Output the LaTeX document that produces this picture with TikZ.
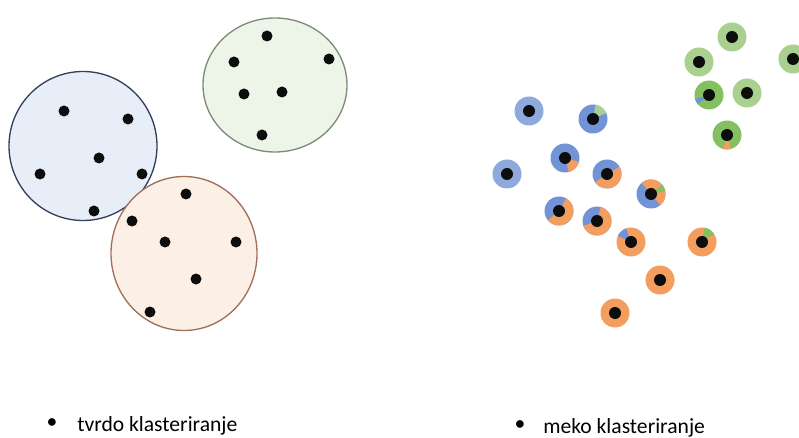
\documentclass[tikz,border=0pt]{standalone}
\usepackage{fontspec}
\setmainfont{Carlito}

\definecolor{bluefill}{RGB}{232,238,248}
\definecolor{blueline}{RGB}{52,64,92}
\definecolor{greenfill}{RGB}{237,245,232}
\definecolor{greenline}{RGB}{125,140,120}
\definecolor{orangefill}{RGB}{252,239,230}
\definecolor{orangeline}{RGB}{160,112,90}
\definecolor{lblue}{RGB}{142,169,219}
\definecolor{mblue}{RGB}{114,148,215}
\definecolor{lgreen}{RGB}{169,208,142}
\definecolor{mgreen}{RGB}{132,192,96}
\definecolor{morange}{RGB}{243,158,94}

\tikzset{
  cluster/.style={line width=1pt},
  pt/.style={fill=black!95},
  lbl/.style={anchor=base west,inner sep=0pt,font=\fontsize{16.2}{19}\selectfont},
  bul/.style={inner sep=0pt,font=\fontsize{16.2}{19}\selectfont}
}

\begin{document}
\begin{tikzpicture}[x=0.75pt,y=0.75pt,yscale=-1,xscale=1]
\useasboundingbox (0,0) rectangle (799,438);

%Shape: Ellipse [blue cluster]
\draw [cluster,draw=blueline,fill=bluefill] (83,146) ellipse (74 and 74.5);
%Shape: Ellipse [green cluster]
\draw [cluster,draw=greenline,fill=greenfill] (275,85) ellipse (72 and 67);
%Shape: Ellipse [orange cluster]
\draw [cluster,draw=orangeline,fill=orangefill] (184,253.5) ellipse (73 and 77);

%Points, blue cluster
\fill [pt] (64,111) circle (5.5);
\fill [pt] (128,119) circle (5.5);
\fill [pt] (99,158) circle (5.5);
\fill [pt] (40,174) circle (5.5);
\fill [pt] (142,174) circle (5.5);
\fill [pt] (94,211) circle (5.5);
%Points, green cluster
\fill [pt] (267,36) circle (5.5);
\fill [pt] (234,62) circle (5.5);
\fill [pt] (329,59) circle (5.5);
\fill [pt] (244,94) circle (5.5);
\fill [pt] (282,92) circle (5.5);
\fill [pt] (262,135) circle (5.5);
%Points, orange cluster
\fill [pt] (186,194) circle (5.5);
\fill [pt] (132,221) circle (5.5);
\fill [pt] (165,242) circle (5.5);
\fill [pt] (236,242) circle (5.5);
\fill [pt] (196,279) circle (5.5);
\fill [pt] (150,312) circle (5.5);

%Soft points: centres
\coordinate (s1) at (529,111);
\coordinate (s2) at (593,119);
\coordinate (s3) at (565,158);
\coordinate (s4) at (507,174);
\coordinate (s5) at (607,174);
\coordinate (s6) at (651,194);
\coordinate (s7) at (559,211);
\coordinate (s8) at (597,221);
\coordinate (s9) at (631,242);
\coordinate (s10) at (702,242);
\coordinate (s11) at (660,280);
\coordinate (s12) at (615,313);
\coordinate (g1) at (732,37);
\coordinate (g2) at (699,62);
\coordinate (g3) at (793,59);
\coordinate (g4) at (709,95);
\coordinate (g5) at (747,93);
\coordinate (g6) at (727,135);

%Soft points: rings
\fill [lblue] (s1) circle (14.5);
\fill [mblue] (s2) circle (14.5);
\fill [lgreen] (s2) -- ++(-80:14.5) arc [start angle=-80,end angle=-25,radius=14.5] -- cycle;
\fill [mblue] (s3) circle (14.5);
\fill [morange] (s3) -- ++(15:14.5) arc [start angle=15,end angle=75,radius=14.5] -- cycle;
\fill [lblue] (s4) circle (14.5);
\fill [mblue] (s5) circle (14.5);
\fill [morange] (s5) -- ++(-30:14.5) arc [start angle=-30,end angle=145,radius=14.5] -- cycle;
\fill [mblue] (s6) circle (14.5);
\fill [morange] (s6) -- ++(-130:14.5) arc [start angle=-130,end angle=50,radius=14.5] -- cycle;
\fill [mgreen] (s6) -- ++(-40:14.5) arc [start angle=-40,end angle=-10,radius=14.5] -- cycle;
\fill [mblue] (s7) circle (14.5);
\fill [morange] (s7) -- ++(-60:14.5) arc [start angle=-60,end angle=140,radius=14.5] -- cycle;
\fill [mblue] (s8) circle (14.5);
\fill [morange] (s8) -- ++(-75:14.5) arc [start angle=-75,end angle=160,radius=14.5] -- cycle;
\fill [morange] (s9) circle (14.5);
\fill [mblue] (s9) -- ++(-155:14.5) arc [start angle=-155,end angle=-110,radius=14.5] -- cycle;
\fill [morange] (s10) circle (14.5);
\fill [mgreen] (s10) -- ++(-80:14.5) arc [start angle=-80,end angle=-35,radius=14.5] -- cycle;
\fill [morange] (s11) circle (14.5);
\fill [morange] (s12) circle (14.5);
\fill [lgreen] (g1) circle (14.5);
\fill [lgreen] (g2) circle (14.5);
\fill [lgreen] (g3) circle (14.5);
\fill [mgreen] (g4) circle (14.5);
\fill [mblue] (g4) -- ++(-220:14.5) arc [start angle=-220,end angle=-195,radius=14.5] -- cycle;
\fill [lgreen] (g5) circle (14.5);
\fill [mgreen] (g6) circle (14.5);
\fill [morange] (g6) -- ++(-285:14.5) arc [start angle=-285,end angle=-255,radius=14.5] -- cycle;

%Soft points: centre dots
\foreach \p in {s1,s2,s3,s4,s5,s6,s7,s8,s9,s10,s11,s12,g1,g2,g3,g4,g5,g6}
  \fill [pt] (\p) circle (6);

% Text Node
\node [bul] (bhard) at (52,424) {•};
\node [lbl] (hard) at (77,431) {tvrdo klasteriranje};
% Text Node
\node [bul] (bsoft) at (520,426) {•};
\node [lbl] (soft) at (543,433) {meko klasteriranje};

\end{tikzpicture}
\end{document}
